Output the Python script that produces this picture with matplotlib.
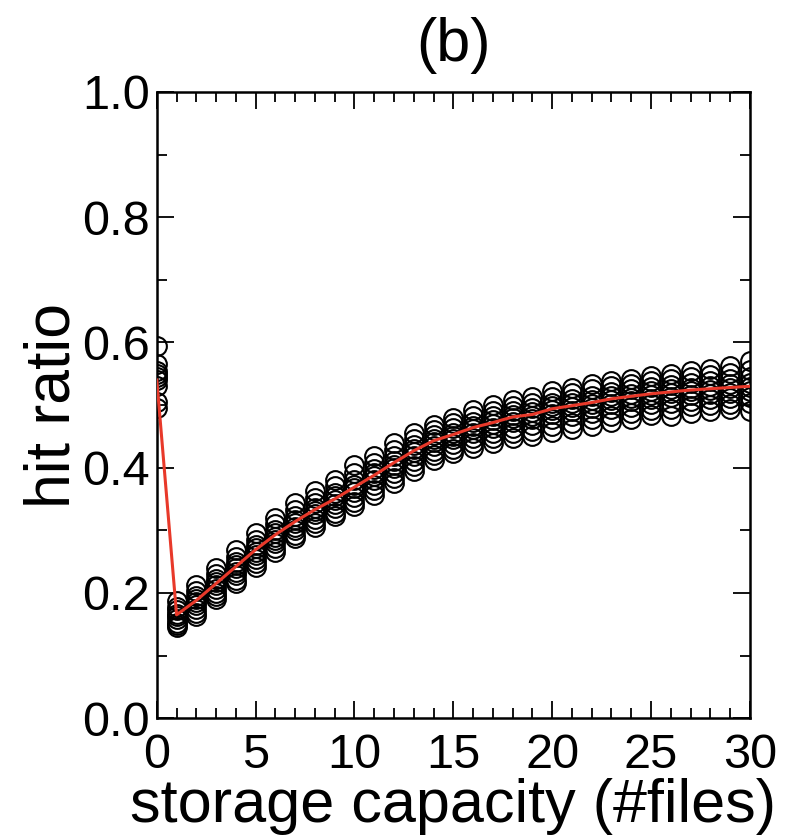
import matplotlib
matplotlib.use("Agg")
import matplotlib.pyplot as plt
from matplotlib.ticker import MultipleLocator

plt.rcParams["font.family"] = ["Liberation Sans", "DejaVu Sans"]

# storage capacity (#files)
capacity = list(range(31))

# hit ratio of each run, one list per capacity value
runs_by_capacity = [
    [0.595, 0.565, 0.555, 0.550, 0.545, 0.540, 0.530, 0.505, 0.495],
    [0.187, 0.178, 0.172, 0.167, 0.163, 0.158, 0.152, 0.148, 0.145],
    [0.212, 0.203, 0.195, 0.190, 0.185, 0.180, 0.174, 0.168, 0.163],
    [0.240, 0.230, 0.222, 0.217, 0.212, 0.207, 0.200, 0.195, 0.190],
    [0.268, 0.258, 0.250, 0.244, 0.239, 0.234, 0.228, 0.220, 0.215],
    [0.295, 0.285, 0.277, 0.271, 0.266, 0.260, 0.254, 0.248, 0.242],
    [0.320, 0.310, 0.301, 0.296, 0.290, 0.285, 0.279, 0.272, 0.266],
    [0.343, 0.333, 0.323, 0.317, 0.312, 0.306, 0.300, 0.292, 0.287],
    [0.362, 0.352, 0.343, 0.336, 0.331, 0.326, 0.318, 0.312, 0.305],
    [0.380, 0.370, 0.360, 0.354, 0.348, 0.342, 0.335, 0.328, 0.322],
    [0.405, 0.392, 0.380, 0.373, 0.367, 0.361, 0.353, 0.345, 0.338],
    [0.418, 0.408, 0.398, 0.391, 0.386, 0.380, 0.372, 0.364, 0.357],
    [0.440, 0.428, 0.418, 0.411, 0.405, 0.399, 0.392, 0.384, 0.376],
    [0.455, 0.445, 0.436, 0.430, 0.425, 0.418, 0.410, 0.402, 0.395],
    [0.468, 0.460, 0.452, 0.446, 0.441, 0.435, 0.427, 0.420, 0.412],
    [0.480, 0.471, 0.463, 0.456, 0.451, 0.445, 0.437, 0.430, 0.424],
    [0.492, 0.482, 0.473, 0.467, 0.462, 0.456, 0.448, 0.440, 0.432],
    [0.500, 0.491, 0.482, 0.476, 0.470, 0.464, 0.456, 0.448, 0.440],
    [0.508, 0.499, 0.490, 0.484, 0.479, 0.473, 0.464, 0.455, 0.447],
    [0.513, 0.504, 0.495, 0.489, 0.483, 0.477, 0.468, 0.459, 0.450],
    [0.522, 0.513, 0.504, 0.498, 0.492, 0.486, 0.477, 0.467, 0.457],
    [0.528, 0.519, 0.510, 0.503, 0.497, 0.491, 0.482, 0.472, 0.462],
    [0.534, 0.525, 0.515, 0.508, 0.502, 0.496, 0.487, 0.477, 0.467],
    [0.538, 0.530, 0.521, 0.514, 0.508, 0.502, 0.493, 0.483, 0.473],
    [0.542, 0.534, 0.525, 0.518, 0.512, 0.506, 0.497, 0.487, 0.477],
    [0.546, 0.538, 0.529, 0.522, 0.516, 0.510, 0.501, 0.492, 0.484],
    [0.550, 0.541, 0.532, 0.525, 0.519, 0.513, 0.504, 0.494, 0.482],
    [0.554, 0.545, 0.535, 0.528, 0.522, 0.516, 0.507, 0.498, 0.488],
    [0.557, 0.548, 0.538, 0.530, 0.524, 0.518, 0.509, 0.500, 0.490],
    [0.562, 0.551, 0.541, 0.533, 0.527, 0.520, 0.511, 0.502, 0.494],
    [0.570, 0.556, 0.545, 0.536, 0.529, 0.522, 0.513, 0.503, 0.491],
]

# average hit ratio (red line)
mean_ratio = [0.540, 0.165, 0.188, 0.215, 0.242, 0.269, 0.293, 0.314, 0.333,
              0.350, 0.369, 0.388, 0.408, 0.427, 0.443, 0.453, 0.464, 0.472,
              0.481, 0.485, 0.494, 0.499, 0.504, 0.510, 0.514, 0.518, 0.521,
              0.524, 0.526, 0.528, 0.530]

fig = plt.figure(figsize=(7.96, 8.36), dpi=100)
ax = fig.add_axes([0.197, 0.141, 0.745, 0.749])

for x, vals in zip(capacity, runs_by_capacity):
    ax.plot([x] * len(vals), vals, linestyle="none", marker="o", markersize=13.5,
            markerfacecolor="none", markeredgecolor="black", markeredgewidth=1.5)

ax.plot(capacity, mean_ratio, color="#e8392a", linewidth=2.2, zorder=5)

ax.set_xlim(0, 30)
ax.set_ylim(0, 1.0)
ax.xaxis.set_major_locator(MultipleLocator(5))
ax.xaxis.set_minor_locator(MultipleLocator(1))
ax.yaxis.set_major_locator(MultipleLocator(0.2))
ax.yaxis.set_minor_locator(MultipleLocator(0.1))
ax.yaxis.set_major_formatter(plt.FormatStrFormatter("%.1f"))

ax.tick_params(which="both", direction="in", top=True, right=True, width=1.3)
ax.tick_params(which="major", length=12, labelsize=35)
ax.tick_params(which="minor", length=7)
ax.tick_params(axis="x", pad=11)
ax.tick_params(axis="y", pad=5)
for s in ax.spines.values():
    s.set_linewidth(1.8)

ax.set_xlabel("storage capacity (#files)", fontsize=44, labelpad=0)
ax.set_ylabel("hit ratio", fontsize=45, labelpad=0)
ax.set_title("(b)", fontsize=44, pad=22)

fig.savefig("out.png", dpi=100)
